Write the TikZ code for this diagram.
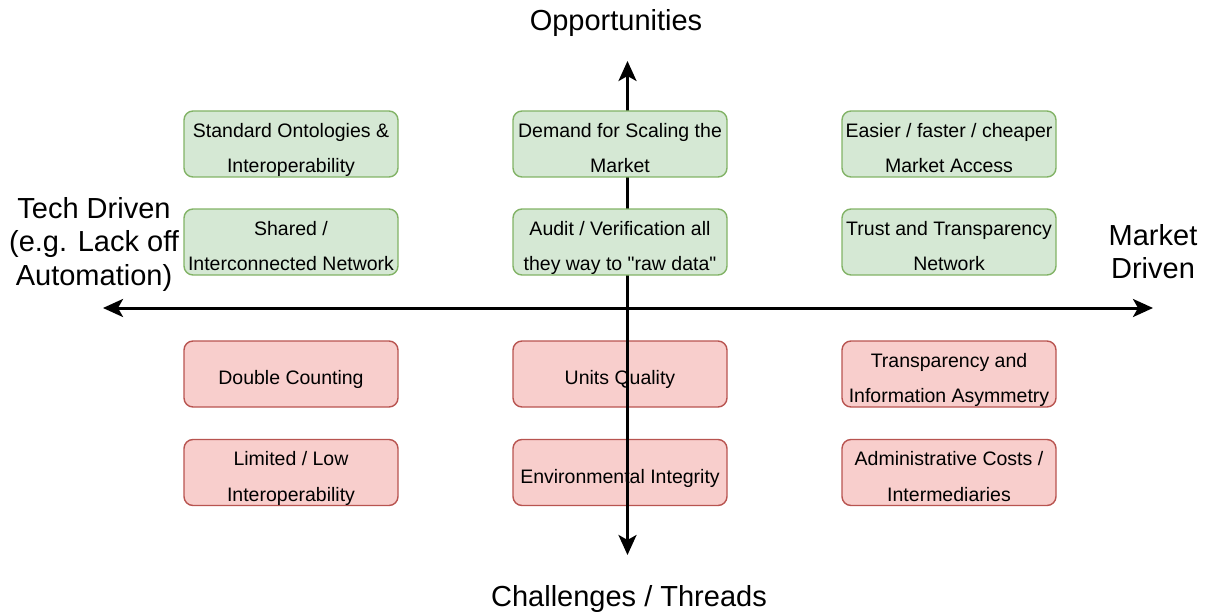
\documentclass[tikz,border=0pt]{standalone}
\usepackage{fontspec}
\setmainfont{Liberation Sans}[Ligatures=TeXOff]
\usetikzlibrary{arrows.meta}
\definecolor{gfill}{HTML}{D5E8D4}
\definecolor{gline}{HTML}{82B366}
\definecolor{rfill}{HTML}{F8CECC}
\definecolor{rline}{HTML}{B85450}
\newcommand\tstrut{\rule[-10.6pt]{0pt}{29.9pt}}
\begin{document}
\begin{tikzpicture}[x=1pt,y=-1pt,
  box/.style={draw, rounded corners=9pt, line width=1.4pt, minimum width=214pt, minimum height=66pt, inner sep=0pt},
  gbox/.style={box, fill=gfill, draw=gline},
  rbox/.style={box, fill=rfill, draw=rline},
  btxt/.style={align=center, font=\fontsize{19.5}{35.5}\selectfont, inner sep=0pt, yshift=-6.5pt},
  big/.style={align=center, font=\fontsize{29}{33.5}\selectfont, inner sep=0pt},
  tip/.tip={Stealth[length=20pt,width=18pt,inset=5pt]},
  axis/.style={line width=3pt, tip-tip}
]
\useasboundingbox (0,0) rectangle (1205,615);

% challenge boxes (under the axis)
\node[rbox] (r1) at (291,374) {};
\node[btxt] (r1t) at (r1) {\tstrut Double Counting};
\node[rbox] (r2) at (620,374) {};
\node[btxt] (r2t) at (r2) {\tstrut Units Quality};
\node[rbox] (r3) at (949,374) {};
\node[btxt] (r3t) at (r3) {\tstrut Transparency and\\\strut Information Asymmetry};
\node[rbox] (r4) at (291,472.5) {};
\node[btxt] (r4t) at (r4) {\tstrut Limited / Low\\\strut Interoperability};
\node[rbox] (r5) at (620,472.5) {};
\node[btxt] (r5t) at (r5) {\tstrut Environmental Integrity};
\node[rbox] (r6) at (949,472.5) {};
\node[btxt] (r6t) at (r6) {\tstrut Administrative Costs /\\\strut Intermediaries};

% axes
\coordinate (top) at (627.5,61);
\coordinate (bot) at (627.5,555);
\coordinate (lft) at (103,308);
\coordinate (rgt) at (1153,308);
\draw[axis] (lft) -- (rgt);
\draw[axis] (bot) -- (top);

% opportunity boxes (over the axis)
\node[gbox] (g1) at (291,144) {};
\node[btxt] (g1t) at (g1) {\tstrut Standard Ontologies \&\\\strut Interoperability};
\node[gbox] (g2) at (620,144) {};
\node[btxt] (g2t) at (g2) {\tstrut Demand for Scaling the\\\strut Market};
\node[gbox] (g3) at (949,144) {};
\node[btxt] (g3t) at (g3) {\tstrut Easier / faster / cheaper\\\strut Market Access};
\node[gbox] (g4) at (291,242) {};
\node[btxt] (g4t) at (g4) {\tstrut Shared /\\\strut Interconnected Network};
\node[gbox] (g5) at (620,242) {};
\node[btxt] (g5t) at (g5) {\tstrut Audit / Verification all\\\strut they way to "raw data"};
\node[gbox] (g6) at (949,242) {};
\node[btxt] (g6t) at (g6) {\tstrut Trust and Transparency\\\strut Network};

% axis labels
\node[big, anchor=base] (opp) at (616,31) {Opportunities};
\node[big, anchor=base] (chal) at (629,606.5) {Challenges / Threads};
\node[big] (tech) at (94,245) {\strut Tech Driven\\\strut (e.g. Lack off\\\strut Automation)};
\node[big] (mkt) at (1153,255.5) {\strut Market\\\strut Driven};
\end{tikzpicture}
\end{document}
